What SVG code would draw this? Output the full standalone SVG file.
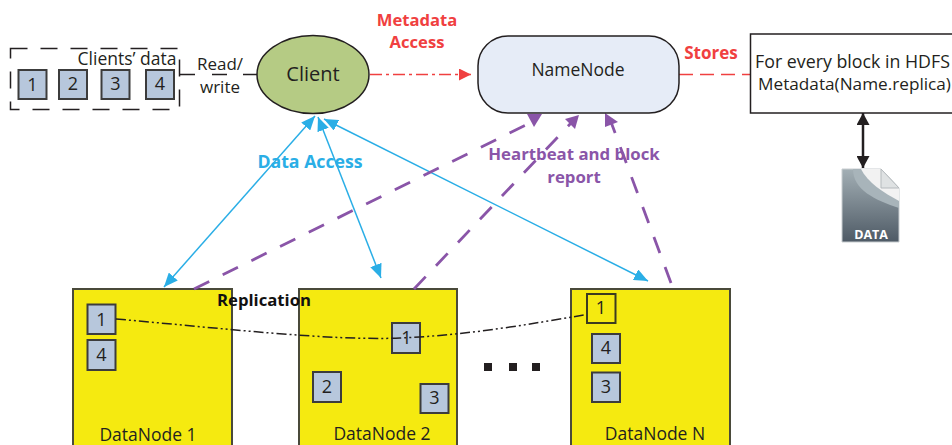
<svg xmlns="http://www.w3.org/2000/svg" width="952" height="445" viewBox="0 0 952 445">
<style>
text{font-family:"Open Sans","Liberation Sans",sans-serif;fill:#231f20;text-anchor:middle;font-size:17.500px}
.b{font-weight:700}
.n{font-size:18px}
.sq{fill:#b7c7dc;stroke:#3c3c3c;stroke-width:2}
.dn{fill:#f5ea10;stroke:#4a4a3a;stroke-width:2}
.blue{fill:none;stroke:#2aaee6;stroke-width:1.500;marker-start:url(#bh);marker-end:url(#bh)}
.pur{fill:none;stroke:#8a55a8;stroke-width:2.800;stroke-dasharray:17 15}
.ph{fill:#8a55a8}
</style>
<defs>
<marker id="bh" viewBox="0 0 14 12" refX="14" refY="6" markerWidth="14" markerHeight="12" markerUnits="userSpaceOnUse" orient="auto-start-reverse"><path d="M0 0L14 6L0 12Z" fill="#2aaee6"/></marker>
<marker id="rh" viewBox="0 0 12 12" refX="12" refY="6" markerWidth="12" markerHeight="12" markerUnits="userSpaceOnUse" orient="auto"><path d="M0 0L12 6L0 12Z" fill="#f04040"/></marker>
<marker id="kh" viewBox="0 0 12 13" refX="12" refY="6.500" markerWidth="12" markerHeight="13" markerUnits="userSpaceOnUse" orient="auto-start-reverse"><path d="M0 0L12 6.500L0 13Z" fill="#231f20"/></marker>
<linearGradient id="pg" x1="0" y1="0" x2="0" y2="1"><stop offset="0" stop-color="#a3afb5"/><stop offset="1" stop-color="#4e5a65"/></linearGradient>
</defs>
<g id="dn1"><rect class="dn" x="73" y="289" width="159" height="170"/>
<rect class="sq" x="87.500" y="304.500" width="28" height="29.500"/><text class="n" x="101.500" y="326">1</text>
<rect class="sq" x="87.500" y="340" width="28" height="30"/><text class="n" x="101.500" y="361">4</text>
<text x="148" y="441">DataNode 1</text></g>
<g id="dn2"><rect class="dn" x="299" y="289" width="158" height="170"/>
<rect class="sq" x="392" y="323" width="28" height="30"/>
<rect class="sq" x="313" y="372" width="28" height="30"/><text class="n" x="327" y="393">2</text>
<rect class="sq" x="420.500" y="384" width="28" height="29"/><text class="n" x="434.500" y="404">3</text>
<text x="382" y="440">DataNode 2</text></g>
<g id="dnN"><rect class="dn" x="571" y="289" width="159" height="170"/>
<rect x="587" y="294" width="28.500" height="29" fill="#f5ea10" stroke="#3c3c20" stroke-width="2"/><text class="n" x="601" y="314">1</text>
<rect class="sq" x="592" y="334" width="28" height="29"/><text class="n" x="606" y="354">4</text>
<rect class="sq" x="592" y="372.500" width="28" height="29.500"/><text class="n" x="606" y="393">3</text>
<text x="655" y="440">DataNode N</text></g>
<g id="client-data"><rect x="10.500" y="48.500" width="169" height="61" fill="none" stroke="#231f20" stroke-width="1.500" stroke-dasharray="17 13"/>
<rect class="sq" x="18.500" y="70" width="28" height="29"/><text class="n" x="32.500" y="91">1</text>
<rect class="sq" x="59" y="70" width="28" height="29"/><text class="n" x="73" y="90">2</text>
<rect class="sq" x="101.500" y="70" width="28" height="29"/><text class="n" x="115.500" y="90">3</text>
<rect class="sq" x="146" y="70" width="28" height="29"/><text class="n" x="160" y="90">4</text>
<text x="127" y="65">Clients’ data</text></g>
<g id="connectors">
<path d="M180 74.500H195M212 74.500H227M243 74.500H257" stroke="#231f20" stroke-width="1.500" fill="none"/>
<path d="M370 74.500H471" stroke="#f04040" stroke-width="1.500" stroke-dasharray="12 4 3 4" fill="none" marker-end="url(#rh)"/>
<path d="M679 74.500H750" stroke="#f04040" stroke-width="1.500" stroke-dasharray="14 7" fill="none"/>
<path d="M863 113V168" stroke="#231f20" stroke-width="2.500" fill="none" marker-start="url(#kh)" marker-end="url(#kh)"/>
<path class="blue" d="M315 116L164 287"/>
<path class="blue" d="M318 117L381 278"/>
<path class="blue" d="M324 119L648 281"/>
<path class="pur" d="M194 289L534 121"/>
<path class="pur" d="M414 289L572 122"/>
<path class="pur" d="M671 283L611 122"/>
<path class="ph" d="M542 114L527 114L534 127Z"/>
<path class="ph" d="M579 115L565 119L575 129Z"/>
<path class="ph" d="M605 113L605 127L618 122Z"/>
<path d="M116 319C220 328 330 341 400 338C470 335 530 324 584 315" fill="none" stroke="#231f20" stroke-width="1.500" stroke-dasharray="10 3 2 3 2 3"/>
</g>
<g id="client"><ellipse cx="313" cy="74.500" rx="56" ry="39" fill="#b5cb84" stroke="#231f20" stroke-width="1.500"/><text x="313" y="81" style="font-size:20px">Client</text></g>
<g id="namenode"><rect x="478" y="36" width="201" height="77" rx="30" fill="#e6ecf7" stroke="#231f20" stroke-width="1.500"/><text x="578" y="76">NameNode</text></g>
<g id="metadata"><rect x="750.500" y="34" width="210" height="79" fill="#fff" stroke="#231f20" stroke-width="1.500"/>
<text x="852.500" y="68" style="font-size:17.800px">For every block in HDFS</text><text x="854.500" y="90" style="font-size:17.200px">Metadata(Name.replica)</text></g>
<g id="data-icon">
<path d="M842 169H881L899 188V242H842Z" fill="url(#pg)" stroke="#c8cdd0" stroke-width="1"/>
<path d="M853 169C853 190 875 200 899 208V188L881 169Z" fill="#a8b4ba"/>
<path d="M861 169C867 182 884 193 899 201V188L881 169Z" fill="#f2f2f2"/>
<path d="M881 169V188H899Z" fill="#dfe2e3" stroke="#b5babd" stroke-width="1"/>
<text x="871" y="239" class="b" style="fill:#fff;font-size:12.500px">DATA</text></g>
<g id="dots" fill="#231f20"><rect x="484" y="363" width="8" height="8"/><rect x="509" y="363" width="8" height="8"/><rect x="532" y="363" width="8" height="8"/></g>
<g id="labels">
<text x="220" y="70" style="font-size:17px">Read/</text><text x="220" y="93" style="font-size:17px">write</text>
<text class="n" x="406.500" y="344">1</text>
<text x="417" y="26" class="b" style="fill:#f04040;font-size:16.600px">Metadata</text><text x="417" y="48" class="b" style="fill:#f04040;font-size:16.600px">Access</text>
<text x="711" y="59" class="b" style="fill:#f04040;font-size:17px">Stores</text>
<text x="310" y="168" class="b" style="fill:#2aaee6;font-size:17.700px">Data Access</text>
<text x="574" y="160" class="b" style="fill:#8a55a8;font-size:16.800px">Heartbeat and block</text><text x="574" y="183" class="b" style="fill:#8a55a8;font-size:16.800px">report</text>
<text x="264" y="306" class="b" style="fill:#111;font-size:16.700px">Replication</text>
</g>
</svg>
